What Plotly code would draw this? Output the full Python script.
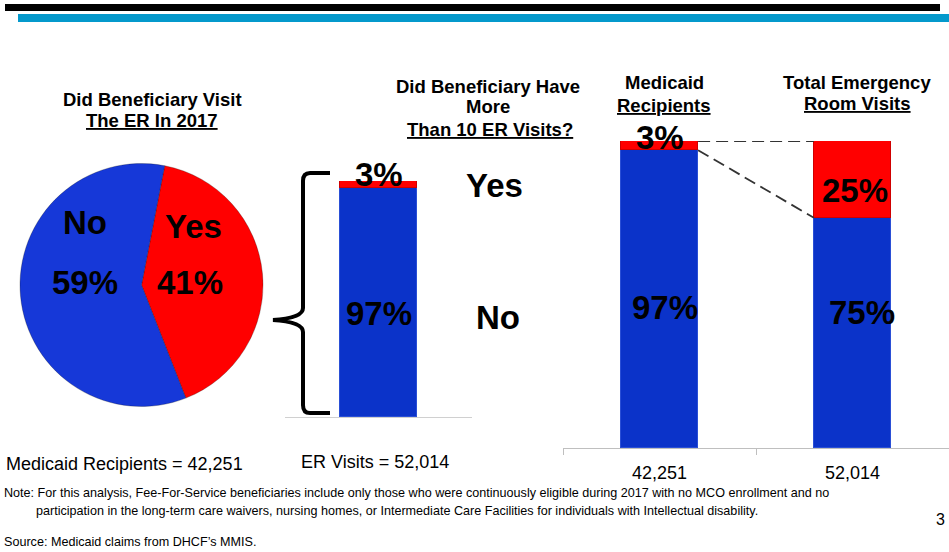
import plotly.graph_objects as go

W, H = 949, 552


def px(x):
    return x / W


def py(y):
    return 1 - y / H


# ---------------- data ----------------
pie_labels = ["Yes", "No"]
pie_values = [41, 59]

mid_labels = ["No", "Yes"]          # stack order bottom -> top
mid_values = [97, 3]

right_categories = ["42,251", "52,014"]
right_no = [97, 75]
right_yes = [3, 25]

medicaid_recipients = "42,251"
er_visits = "52,014"

BLUE = "#0b33c9"
PIE_BLUE = "#1638d8"
RED = "#ff0000"
FONT = "Liberation Sans, Arial, sans-serif"

fig = go.Figure()

# ---------------- pie ----------------
fig.add_trace(go.Pie(
    labels=pie_labels, values=pie_values, sort=False,
    direction="clockwise", rotation=11,
    marker=dict(colors=[RED, PIE_BLUE], line=dict(color="rgba(0,0,0,0.25)", width=1)),
    textinfo="none", hoverinfo="label+percent",
    domain=dict(x=[px(20), px(263)], y=[py(407), py(163)]),
    showlegend=False,
))

# ---------------- middle bar ----------------
fig.add_trace(go.Bar(
    x=["ER"], y=[mid_values[0]], name=mid_labels[0], width=0.41,
    marker=dict(color=BLUE, line=dict(color="#2a4fd6", width=1)),
    xaxis="x", yaxis="y", showlegend=False, hoverinfo="name+y",
))
fig.add_trace(go.Bar(
    x=["ER"], y=[mid_values[1]], name=mid_labels[1], width=0.41,
    marker=dict(color=RED, line=dict(color="#d00000", width=1)),
    xaxis="x", yaxis="y", showlegend=False, hoverinfo="name+y",
))

# ---------------- right bars ----------------
fig.add_trace(go.Bar(
    x=right_categories, y=right_no, name="No", width=0.40,
    marker=dict(color=BLUE, line=dict(color="#2a4fd6", width=1)),
    xaxis="x2", yaxis="y2", showlegend=False, hoverinfo="name+y",
))
fig.add_trace(go.Bar(
    x=right_categories, y=right_yes, name="Yes", width=0.40,
    marker=dict(color=RED, line=dict(color="#d00000", width=1)),
    xaxis="x2", yaxis="y2", showlegend=False, hoverinfo="name+y",
))

shapes = []
# top decorative bars
shapes.append(dict(type="rect", xref="paper", yref="paper",
                   x0=px(5), x1=px(940), y0=py(11), y1=py(4),
                   fillcolor="black", line=dict(width=0), layer="above"))
shapes.append(dict(type="rect", xref="paper", yref="paper",
                   x0=px(18), x1=px(949), y0=py(22), y1=py(14),
                   fillcolor="#0499cc", line=dict(width=0), layer="above"))

# curly brace
brace_pts = [
    ("M", [(330, 173)]), ("L", [(310, 173)]), ("Q", [(303, 173), (303, 181)]),
    ("L", [(303, 308)]), ("Q", [(303, 318), (273, 320)]),
    ("Q", [(303, 322), (303, 332)]), ("L", [(303, 405)]),
    ("Q", [(303, 413), (310, 413)]), ("L", [(330, 413)]),
]
path = " ".join(
    cmd + " " + " ".join(f"{px(a):.5f},{py(b):.5f}" for a, b in pts)
    for cmd, pts in brace_pts
)
shapes.append(dict(type="path", xref="paper", yref="paper", path=path,
                   line=dict(color="black", width=4)))

# dashed connector lines (right chart, from data)
half = 0.40 / 2
shapes.append(dict(type="line", xref="x2", yref="y2",
                   x0=0 + half, y0=right_no[0] + right_yes[0],
                   x1=1 - half, y1=right_no[1] + right_yes[1],
                   line=dict(color="#333333", width=1.8, dash="12px,6px")))
shapes.append(dict(type="line", xref="x2", yref="y2",
                   x0=0 + half, y0=right_no[0],
                   x1=1 - half, y1=right_no[1],
                   line=dict(color="#333333", width=1.8, dash="12px,6px")))

ann = []


def text(x, y, t, size, xanchor="center", color="black"):
    ann.append(dict(x=px(x), y=py(y), xref="paper", yref="paper", text=t,
                    showarrow=False, xanchor=xanchor, yanchor="middle",
                    font=dict(family=FONT, size=size, color=color)))


# titles
text(152, 99, "<b>Did Beneficiary Visit</b>", 18.5)
text(152, 121, "<b><u>The ER In 2017</u></b>", 18.5)
text(488, 86, "<b>Did Beneficiary Have</b>", 18.5)
text(488, 107, "<b>More</b>", 18.5)
text(490, 129, "<b><u>Than 10 ER Visits?</u></b>", 18.5)
text(664, 82, "<b>Medicaid</b>", 18.5)
text(664, 105, "<b><u>Recipients</u></b>", 18.5)
text(857, 82, "<b>Total Emergency</b>", 18.5)
text(857, 104, "<b><u>Room Visits</u></b>", 18.5)

# pie labels
BIG = 33
text(85, 222, f"<b>{pie_labels[1]}</b>", BIG)
text(85, 282, f"<b>{pie_values[1]}%</b>", BIG)
text(193, 226, f"<b>{pie_labels[0]}</b>", BIG)
text(190, 282, f"<b>{pie_values[0]}%</b>", BIG)

# middle bar labels
text(379, 175, f"<b>{mid_values[1]}%</b>", BIG)
text(379, 313, f"<b>{mid_values[0]}%</b>", BIG)
text(495, 186, f"<b>{mid_labels[1]}</b>", BIG)
text(498, 317, f"<b>{mid_labels[0]}</b>", BIG)

# right bar labels
text(660, 137, f"<b>{right_yes[0]}%</b>", BIG)
text(665, 307, f"<b>{right_no[0]}%</b>", BIG)
text(855, 190, f"<b>{right_yes[1]}%</b>", BIG)
text(862, 312, f"<b>{right_no[1]}%</b>", BIG)

# bottom texts
text(4, 464, f"Medicaid Recipients = {medicaid_recipients}", 18, xanchor="left")
text(299, 462, f"ER Visits = {er_visits}", 18, xanchor="left")
text(2, 493, "Note: For this analysis, Fee-For-Service beneficiaries include only those who were "
             "continuously eligible during 2017 with no MCO enrollment and no", 12.6, xanchor="left")
text(34, 511, "participation in the long-term care waivers, nursing homes, or Intermediate Care "
              "Facilities for individuals with Intellectual disability.", 12.6, xanchor="left")
text(940, 519, "3", 16)
text(2, 542, "Source: Medicaid claims from DHCF\u2019s MMIS.", 12.6, xanchor="left")

fig.update_layout(
    width=W, height=H,
    margin=dict(l=0, r=0, t=0, b=0),
    paper_bgcolor="white", plot_bgcolor="white",
    barmode="stack", bargap=0,
    font=dict(family=FONT, color="black"),
    shapes=shapes, annotations=ann,
    xaxis=dict(domain=[px(285), px(472)], anchor="y", type="category",
               showticklabels=False, showline=True, linecolor="#d0d0d0",
               linewidth=1, ticks="", showgrid=False, zeroline=False, fixedrange=True),
    yaxis=dict(domain=[py(417), py(181)], anchor="x", range=[0, 100],
               visible=False, fixedrange=True),
    xaxis2=dict(domain=[px(563), 1.0], anchor="y2", type="category",
                showline=True, linecolor="#bfbfbf", linewidth=1,
                ticks="outside", tickson="boundaries", ticklen=6, tickcolor="#bfbfbf",
                tickfont=dict(family=FONT, size=18, color="black"),
                ticklabelstandoff=8,
                showgrid=False, zeroline=False, fixedrange=True),
    yaxis2=dict(domain=[py(448), py(141)], anchor="x2", range=[0, 100],
                visible=False, fixedrange=True),
)

fig.write_html("out.html")
